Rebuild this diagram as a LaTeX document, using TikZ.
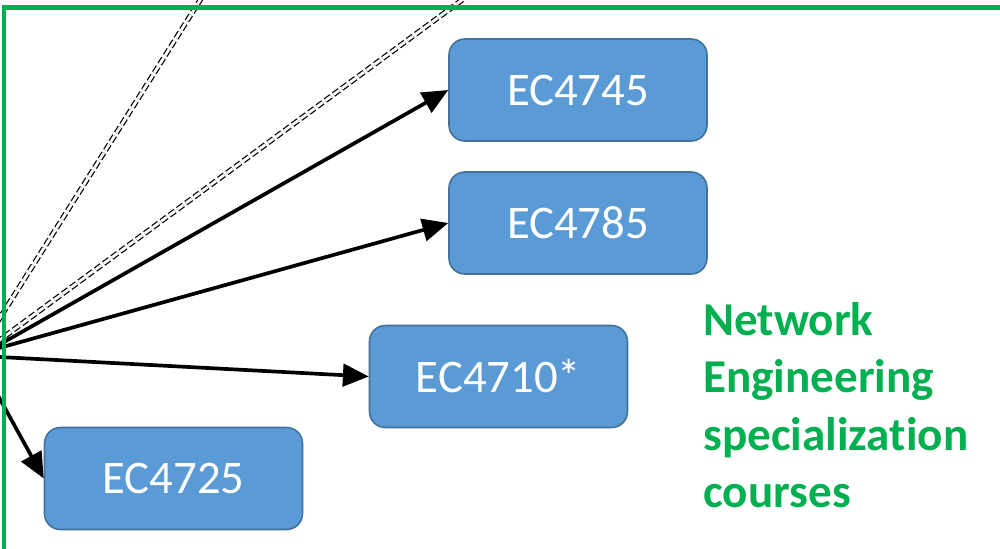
\documentclass[tikz,border=0pt]{standalone}
\usepackage{fontspec}
\setmainfont{Carlito}[Ligatures=NoCommon]
\usetikzlibrary{arrows.meta}
\definecolor{boxfill}{HTML}{5B9BD5}
\definecolor{boxline}{HTML}{41719C}
\definecolor{framegreen}{HTML}{00B050}
\tikzset{
  course/.style={draw=boxline, fill=boxfill, line width=0.9pt, rounded corners=9pt,
    minimum width=5.16cm, minimum height=2.04cm, text=white, inner sep=0pt,
    font=\fontsize{26.6pt}{30pt}\selectfont},
  link/.style={line width=2.1pt, -{Triangle[length=14.7pt, width=12.8pt]}},
  twodash/.style={double, double distance=1.6pt, line width=0.7pt, dash pattern=on 4pt off 1.8pt},
  label/.style={text=framegreen, anchor=base west, inner sep=0pt,
    font=\bfseries\fontsize{26.8pt}{32pt}\selectfont},
}
\begin{document}
\begin{tikzpicture}[x=0.02cm, y=-0.02cm]
\useasboundingbox (0,0) rectangle (1000,548);
\clip (0,0) rectangle (1000,548);
\fill[white] (0,0) rectangle (1000,548);
% nodes
\node[course] (c4745) at (578,90) {EC4745};
\node[course] (c4785) at (578,223) {EC4785};
\node[course] (c4710) at (498.5,376.5) {EC4710*};
\node[course] (c4725) at (173.5,478.5) {EC4725};
% sources off the left edge
\coordinate (s1) at (-10,350);
\coordinate (s2) at (-10,350.5);
\coordinate (s3) at (-10,356.5);
\coordinate (s4) at (-10,381);
\coordinate (d1) at (-14,340);
\coordinate (d1e) at (214,-22);
\coordinate (d2) at (-3,342);
\coordinate (d2e) at (492,-22);
% dashed double lines
\draw[twodash] (d1) -- (d1e);
\draw[twodash] (d2) -- (d2e);
% arrows
\draw[link] (s1) -- (c4745.west);
\draw[link] (s2) -- (c4785.west);
\draw[link] (s3) -- (c4710.west);
\draw[link] (s4) -- (c4725.west);
% green frame
\draw[framegreen, line width=2.3pt] (1020,7.5) -- (4,7.5) -- (4,570);
% label
\node[label] (t1) at (703,335) {Network};
\node[label] (t2) at (703,392.5) {Engineering};
\node[label] (t3) at (703,450) {specialization};
\node[label] (t4) at (703,507.5) {courses};
\end{tikzpicture}
\end{document}
